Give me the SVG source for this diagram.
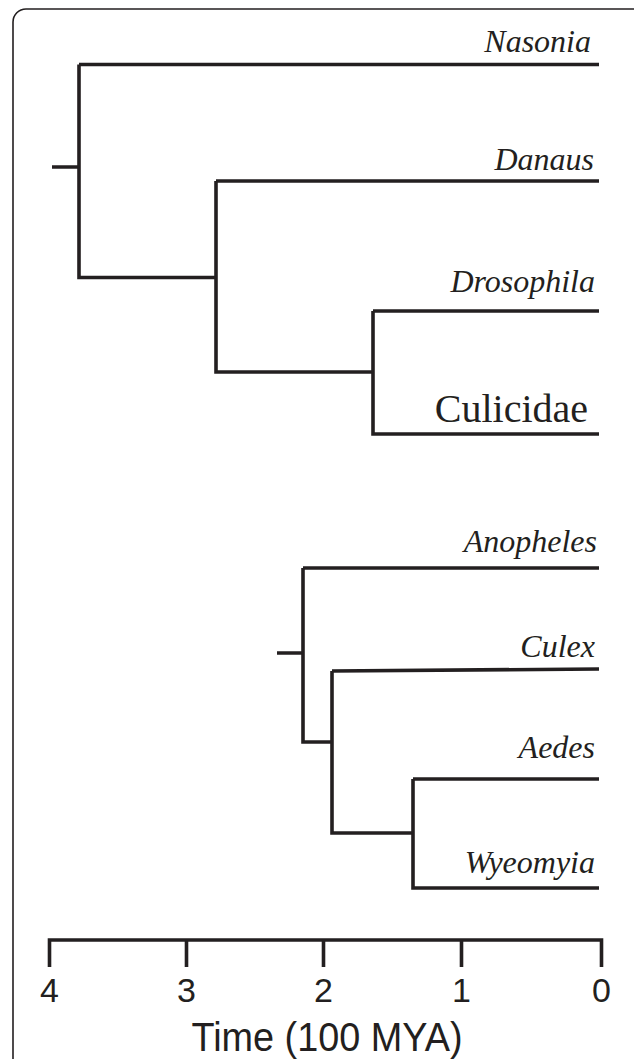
<svg xmlns="http://www.w3.org/2000/svg" width="634" height="1059" viewBox="0 0 634 1059">
<style>
.br{fill:none;stroke:#231f20;stroke-width:3.6;stroke-linejoin:miter;stroke-linecap:butt}
.tx{font-family:"Liberation Serif","Times New Roman",serif;font-style:italic;font-size:32px;fill:#231f20;text-anchor:end}
.up{font-family:"Liberation Serif","Times New Roman",serif;font-size:40px;fill:#231f20;text-anchor:end}
.ax{font-family:"Liberation Sans",Arial,sans-serif;fill:#231f20;text-anchor:middle}
</style>
<rect x="13" y="9" width="640" height="1100" rx="13" ry="13" fill="#fff" stroke="#231f20" stroke-width="1.6"/>
<g id="connectors">
<path class="br" d="M52,167H79M79,64.5H599M79,64.5V277.5H216M216,181H599M216,181V372H373M373,311H599M373,311V434H599"/>
<path class="br" d="M277,653H303M303,568H599M303,568V742H332M332,671L599,669M332,671V833H413M413,779H599M413,779V888H599"/>
</g>
<g id="nasonia"><text class="tx" x="591" y="52">Nasonia</text></g>
<g id="danaus"><text class="tx" x="594" y="170">Danaus</text></g>
<g id="drosophila"><text class="tx" x="595" y="292">Drosophila</text></g>
<g id="culicidae"><text class="up" x="588" y="422">Culicidae</text></g>
<g id="anopheles"><text class="tx" x="597" y="552">Anopheles</text></g>
<g id="culex"><text class="tx" x="595" y="657">Culex</text></g>
<g id="aedes"><text class="tx" x="595" y="758">Aedes</text></g>
<g id="wyeomyia"><text class="tx" x="595" y="873">Wyeomyia</text></g>
<g id="axis">
<path class="br" d="M49.5,967V940H601.5V967M186.5,940V967M323.5,940V967M461.5,940V967"/>
<text class="ax" font-size="34" x="49.5" y="1002">4</text>
<text class="ax" font-size="34" x="186.5" y="1002">3</text>
<text class="ax" font-size="34" x="323.5" y="1002">2</text>
<text class="ax" font-size="34" x="461.5" y="1002">1</text>
<text class="ax" font-size="34" x="601.5" y="1002">0</text>
<text class="ax" font-size="40" x="327" y="1051" textLength="271" lengthAdjust="spacingAndGlyphs">Time (100 MYA)</text>
</g>
</svg>
